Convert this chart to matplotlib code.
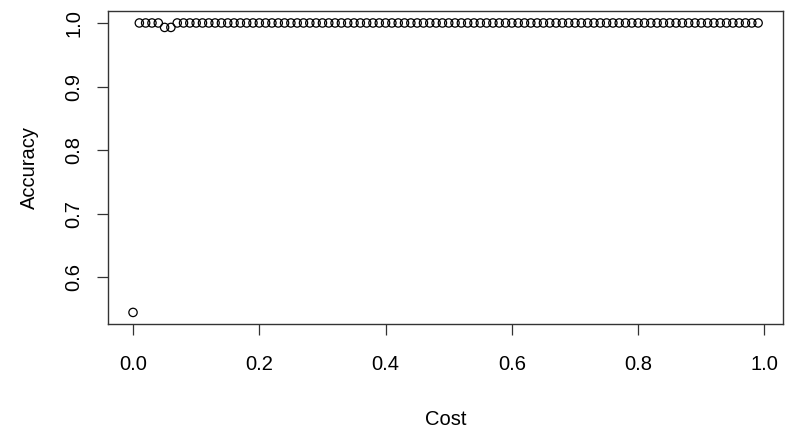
import numpy as np
import matplotlib.pyplot as plt

plt.rcParams['font.family'] = ['Liberation Sans', 'DejaVu Sans']

# cost grid 0.00 .. 0.99 and the accuracy reached at each value
cost = [round(0.01 * i, 2) for i in range(100)]
accuracy = [0.545, 1.0, 1.0, 1.0, 1.0, 0.993, 0.993] + [1.0] * 93

fig = plt.figure(figsize=(7.85, 4.28), dpi=100)
ax = fig.add_axes([0.1376, 0.243, 0.86, 0.7304])

ax.scatter(cost, accuracy, s=36, facecolors='none', edgecolors='black', linewidths=0.9)

# R-style 4% padding around the data range
lo, hi = min(accuracy), max(accuracy)
pad = (hi - lo) * 0.04
ax.set_ylim(lo - pad, hi + pad)
ax.set_xlim(-0.0396, 1.0296)

ax.set_xticks([0.0, 0.2, 0.4, 0.6, 0.8, 1.0])
ax.set_xticklabels(['0.0', '0.2', '0.4', '0.6', '0.8', '1.0'])
ax.set_yticks([0.6, 0.7, 0.8, 0.9, 1.0])
ax.set_yticklabels(['0.6', '0.7', '0.8', '0.9', '1.0'], rotation=90, va='center')

ax.tick_params(axis='both', length=8, width=0.9, labelsize=14.5, color='#333333')
ax.tick_params(axis='x', pad=14)
ax.tick_params(axis='y', pad=10)
for s in ax.spines.values():
    s.set_linewidth(1.0)
    s.set_color('#333333')

ax.set_xlabel('Cost', fontsize=14.5, labelpad=26)
ax.set_ylabel('Accuracy', fontsize=14.5, labelpad=18)

fig.savefig('out.png', dpi=100)
